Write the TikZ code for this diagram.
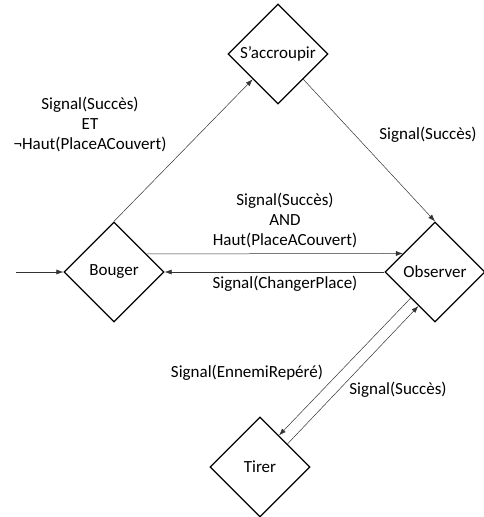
\documentclass[tikz,border=0pt]{standalone}
\usepackage{fontspec}
\setmainfont{Carlito}
\usetikzlibrary{shapes.geometric,arrows.meta}
\tikzset{
  state/.style={diamond, draw=black, line width=1.3pt, minimum width=100pt, minimum height=100pt, inner sep=0pt, font=\fontsize{17}{20}\selectfont},
  conn/.style={draw=black!80, line width=0.5pt, -{Latex[length=7pt,width=5pt]}},
  lbl/.style={align=center, font=\fontsize{17}{20}\selectfont, inner sep=0pt}
}
\begin{document}
\begin{tikzpicture}[x=1pt,y=1pt]
\useasboundingbox (0,0) rectangle (483,-517);
\node[state] (acc) at (278,-54) {S’accroupir};
\node[state] (bouger) at (114,-272) {Bouger};
\node[state] (obs) at (435,-272) {Observer};
\node[state] (tirer) at (260,-467) {Tirer};
\coordinate (init) at (16,-272);

\draw[conn] (init) -- (bouger.west);
\draw[conn] (bouger.north) -- (acc.south west);
\draw[conn] (acc.south east) -- (obs.north);
\draw[conn] (bouger.29.4) -- (obs.150.6);
\draw[conn] (obs.west) -- (bouger.east);
\draw[conn] (obs.227) -- (tirer.59);
\draw[conn] (tirer.40) -- (obs.244);

\node[lbl] (l1) at (90,-124) {Signal(Succès)\\ET\\¬Haut(PlaceACouvert)};
\node[lbl] (l2) at (428,-135) {Signal(Succès)};
\node[lbl] (l3) at (285,-220) {Signal(Succès)\\AND\\Haut(PlaceACouvert)};
\node[lbl] (l4) at (285,-284) {Signal(ChangerPlace)};
\node[lbl] (l5) at (247,-373) {Signal(EnnemiRepéré)};
\node[lbl] (l6) at (398,-390) {Signal(Succès)};
\end{tikzpicture}
\end{document}
